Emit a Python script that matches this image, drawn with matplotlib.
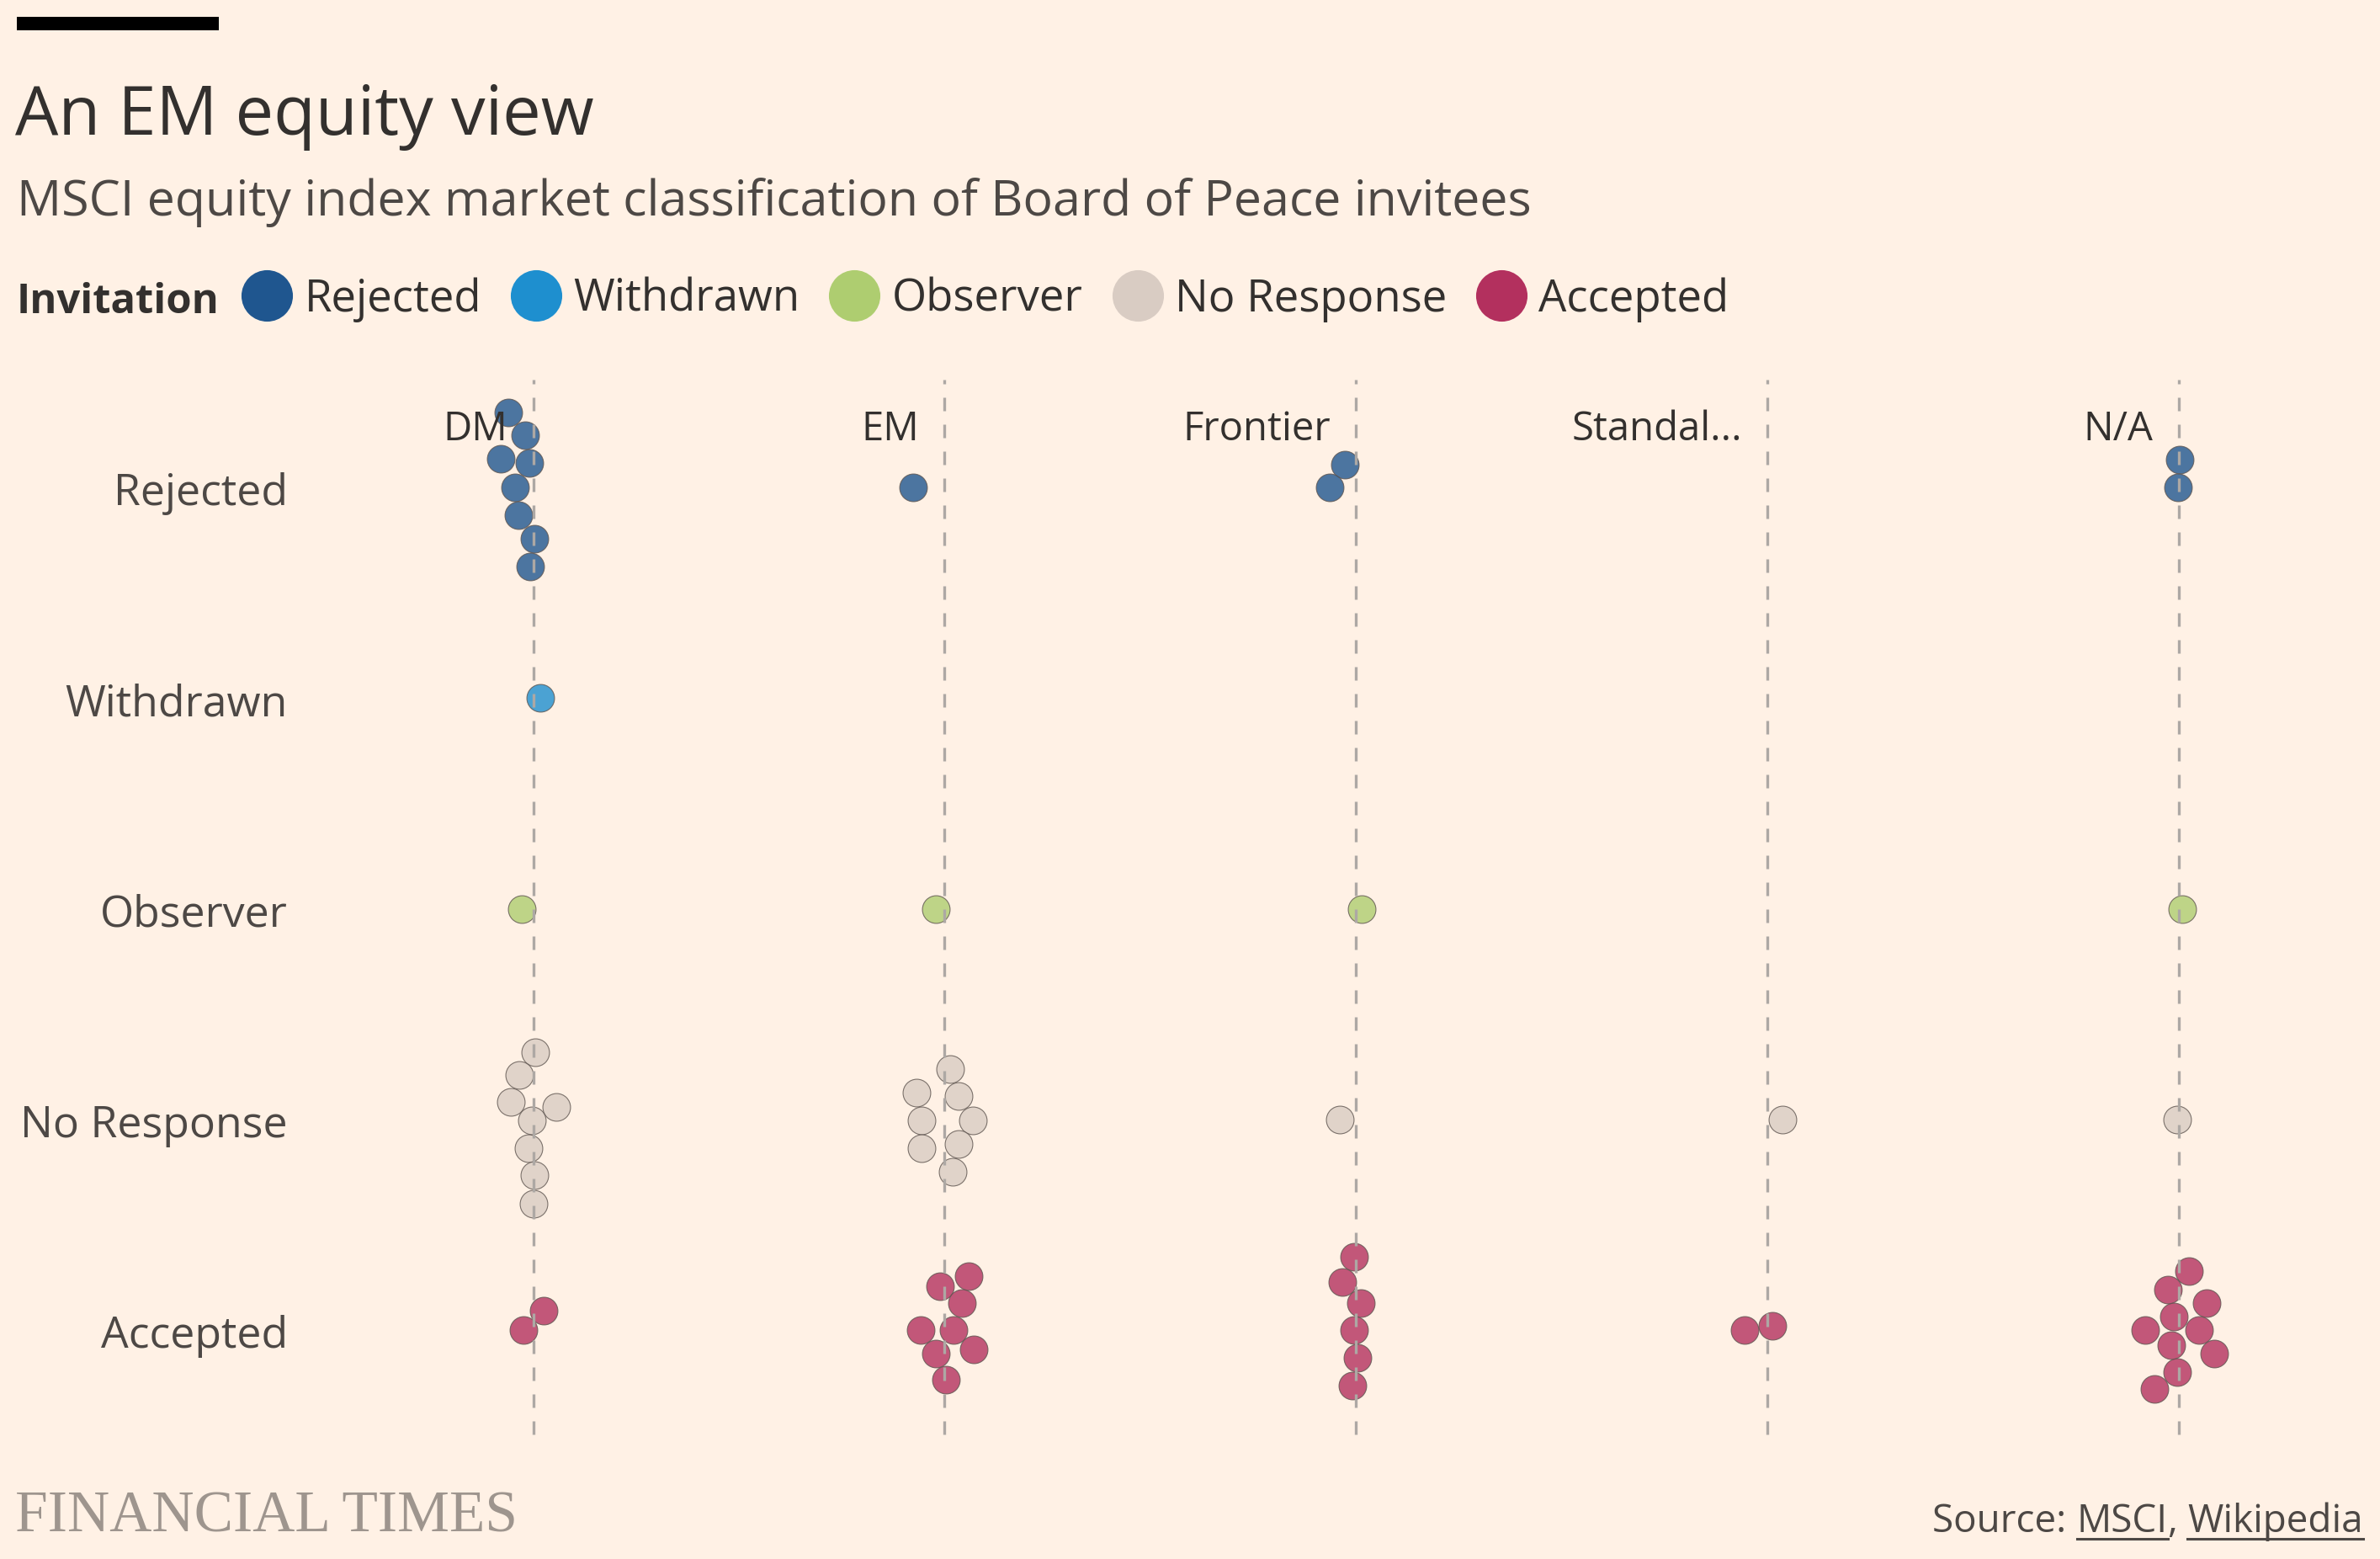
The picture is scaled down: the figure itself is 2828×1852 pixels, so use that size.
import matplotlib
matplotlib.use("Agg")
import matplotlib.pyplot as plt
from matplotlib.lines import Line2D

plt.rcParams['font.family'] = ['Open Sans', 'DejaVu Sans']

# ---------------- data ----------------
columns = ["DM", "EM", "Frontier", "Standal...", "N/A"]
statuses = ["Rejected", "Withdrawn", "Observer", "No Response", "Accepted"]
colors = ["#1F568F", "#1E8FCF", "#AECD70", "#D9CCC3", "#B3305E"]

# each invitee: market-class column index and its swarm offset (pixels) inside the cell
rejected_col = [0, 0, 0, 0, 0, 0, 0, 0, 1, 2, 2, 4, 4]
rejected_dx = [-30, -10, -39, -5, -22, -18, 1, -4, -37, -13, -31, 1, -1]
rejected_dy = [-89, -62, -34, -29, 0, 33, 61, 94, 0, -27, 0, -33, 0]

withdrawn_col = [0]
withdrawn_dx = [8]
withdrawn_dy = [0]

observer_col = [0, 1, 2, 4]
observer_dx = [-14, -10, 7, 4]
observer_dy = [0, 0, 0, 0]

noresp_col = [0, 0, 0, 0, 0, 0, 0, 0,
              1, 1, 1, 1, 1, 1, 1, 1,
              2, 3, 4]
noresp_dx = [2, -17, -27, 27, -2, -6, 1, 0,
             7, -33, 17, -27, 34, 17, -27, 10,
             -19, 18, -2]
noresp_dy = [-80, -53, -21, -15, 1, 34, 66, 100,
             -60, -32, -28, 1, 1, 29, 34, 62,
             0, 0, 0]

accepted_col = [0, 0,
                1, 1, 1, 1, 1, 1, 1, 1,
                2, 2, 2, 2, 2, 2,
                3, 3,
                4, 4, 4, 4, 4, 4, 4, 4, 4, 4]
accepted_dx = [12, -12,
               29, -5, 21, -28, 11, 35, -10, 2,
               -2, -16, 6, -2, 2, -4,
               -27, 6,
               12, -13, 33, -6, -40, 24, -9, 42, -2, -29]
accepted_dy = [-23, 0,
               -64, -52, -32, 0, 0, 23, 28, 59,
               -87, -57, -32, 0, 33, 66,
               0, -5,
               -70, -48, -32, -16, 0, 0, 18, 28, 50, 70]

groups = [
    (rejected_col, rejected_dx, rejected_dy),
    (withdrawn_col, withdrawn_dx, withdrawn_dy),
    (observer_col, observer_dx, observer_dy),
    (noresp_col, noresp_dx, noresp_dy),
    (accepted_col, accepted_dx, accepted_dy),
]

# ---------------- layout ----------------
W, H = 2828, 1852
BG = "#FFF1E5"
TXT = "#33302E"
TXT2 = "#4D4845"

fig = plt.figure(figsize=(W / 100, H / 100), dpi=100, facecolor=BG)

COL_PX = 488.75      # pixels per column
ROW_PX = 250.25      # pixels per row
X0_PX, Y0_PX = 633.5, 579.0  # pixel position of first column / first row
ax_l, ax_r, ax_t, ax_b = 389, 2783, 440, 1720
ax = fig.add_axes([ax_l / W, 1 - ax_b / H, (ax_r - ax_l) / W, (ax_b - ax_t) / H])
ax.set_facecolor(BG)
ax.set_xlim((ax_l - X0_PX) / COL_PX, (ax_r - X0_PX) / COL_PX)
ax.set_ylim((ax_b - Y0_PX) / ROW_PX, (ax_t - Y0_PX) / ROW_PX)
ax.axis("off")


def xd(px):
    return (px - X0_PX) / COL_PX


def yd(py):
    return (py - Y0_PX) / ROW_PX


# dashed column guides (on top of dots)
for i in range(len(columns)):
    ax.axvline(i, ymin=(ax_b - 1704) / (ax_b - ax_t), ymax=(ax_b - 451) / (ax_b - ax_t),
               color="#ADA8A4", lw=2.4, ls=(0, (4.8, 4.8)), zorder=5)

# dots
for r, (cols, dxs, dys) in enumerate(groups):
    xs = [c + dx / COL_PX for c, dx in zip(cols, dxs)]
    ys = [r + dy / ROW_PX for dy in dys]
    ax.scatter(xs, ys, s=560, color=colors[r], alpha=0.8, edgecolors="#5E5550",
               linewidths=0.8, zorder=3)

# column labels
for i, c in enumerate(columns):
    ax.text(i - 30 / COL_PX, yd(523), c, ha="right", va="baseline", fontsize=34,
            color=TXT, zorder=6)

# row labels
for r, s in enumerate(statuses):
    ax.text(xd(342), r + 21 / ROW_PX, s, ha="right", va="baseline", fontsize=37.3,
            color=TXT2, clip_on=False)

# ---------------- header ----------------
def fx(px):
    return px / W


def fy(py):
    return 1 - py / H


fig.add_artist(plt.Rectangle((fx(20), fy(36)), 240 / W, 16 / H, transform=fig.transFigure,
                             color="black", lw=0))
fig.text(fx(18), fy(160), "An EM equity view", fontsize=58.5, color=TXT, va="baseline")
fig.text(fx(20), fy(256), "MSCI equity index market classification of Board of Peace invitees",
         fontsize=42.6, color=TXT2, va="baseline")
fig.text(fx(20), fy(372), "Invitation", fontsize=35.3, fontweight="bold", color=TXT, va="baseline")

handles = [Line2D([], [], marker="o", ls="", markersize=44, markerfacecolor=c,
                  markeredgecolor="none") for c in colors]
fig.legend(handles, statuses, loc="center left", bbox_to_anchor=(fx(287), fy(356)),
           ncol=5, frameon=False, fontsize=38, labelcolor=TXT, handlelength=1.15,
           handletextpad=0.26, columnspacing=0.66, borderpad=0, borderaxespad=0)

# ---------------- footer ----------------
fig.text(fx(18), fy(1819), "FINANCIAL TIMES", fontsize=50, color="#9E958E",
         family=["Liberation Serif", "DejaVu Serif"], va="baseline")

renderer = fig.canvas.get_renderer()
pieces = [("Wikipedia", True), (", ", False), ("MSCI", True), ("Source: ", False)]
right = 2808
for txt, ul in pieces:
    t = fig.text(fx(right), fy(1820), txt, fontsize=33, color=TXT2, ha="right", va="baseline")
    bb = t.get_window_extent(renderer)
    if ul:
        fig.add_artist(Line2D([bb.x0 / W, bb.x1 / W], [fy(1828), fy(1828)],
                              transform=fig.transFigure, color=TXT2, lw=2.2))
    right = bb.x0

fig.savefig("out.png", dpi=100, facecolor=BG)
